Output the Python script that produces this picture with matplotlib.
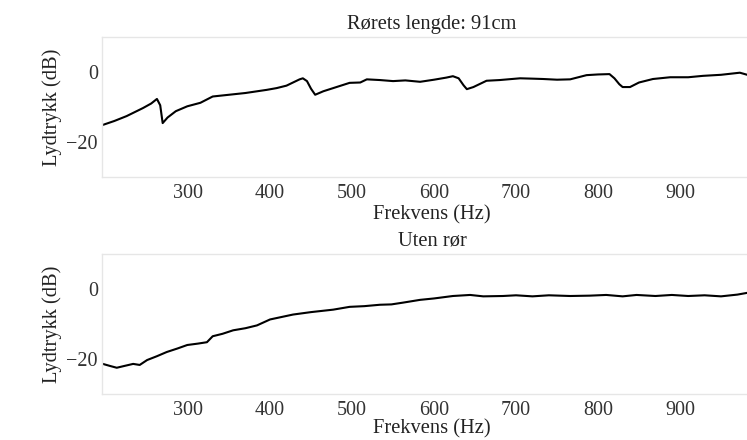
import matplotlib
matplotlib.use("Agg")
import matplotlib.pyplot as plt

# Top panel: tube length 91 cm
freq_tube = [195, 210, 225, 245, 255, 262, 266, 269, 275, 285, 299, 315, 330, 350,
             370, 396, 408, 420, 436, 440, 445, 450, 455, 465, 477, 497, 510, 518,
             534, 550, 565, 583, 600, 615, 623, 630, 636, 640, 648, 664, 680, 705,
             720, 733, 750, 766, 786, 800, 814, 820, 826, 830, 839, 850, 867, 888,
             910, 928, 950, 973, 982, 1000]
db_tube = [-15.2, -14.0, -12.6, -10.3, -9.0, -7.7, -9.5, -14.6, -13.0, -11.2, -9.8, -8.8, -7.0, -6.5,
           -6.0, -5.1, -4.6, -3.9, -2.1, -1.8, -2.6, -4.8, -6.5, -5.5, -4.6, -3.1, -3.0, -2.1,
           -2.3, -2.6, -2.4, -2.8, -2.2, -1.6, -1.2, -1.8, -3.8, -4.9, -4.3, -2.5, -2.3, -1.8,
           -1.9, -2.0, -2.2, -2.1, -0.9, -0.7, -0.6, -1.8, -3.5, -4.3, -4.3, -3.0, -2.0, -1.5,
           -1.5, -1.1, -0.8, -0.2, -0.8, -1.0]

# Bottom panel: without tube
freq_free = [196, 205, 213, 222, 233, 241, 250, 262, 274, 287, 299, 312, 323, 330,
             342, 355, 370, 384, 400, 414, 428, 450, 477, 497, 515, 534, 548, 562,
             583, 600, 623, 644, 660, 684, 700, 720, 740, 766, 790, 810, 830, 847,
             870, 890, 910, 930, 950, 970, 982, 1000]
db_free = [-21.4, -22.0, -22.5, -22.0, -21.4, -21.7, -20.3, -19.2, -18.0, -17.0, -16.0, -15.6, -15.2, -13.5,
           -12.8, -11.8, -11.2, -10.4, -8.7, -8.0, -7.3, -6.6, -5.9, -5.1, -4.9, -4.5, -4.4, -3.9,
           -3.1, -2.7, -2.0, -1.7, -2.1, -2.0, -1.8, -2.1, -1.8, -2.0, -1.9, -1.7, -2.1, -1.7,
           -2.0, -1.7, -2.0, -1.8, -2.1, -1.6, -1.1, -1.0]

titles = ["Rørets lengde: 91cm", "Uten rør"]
xlabel = "Frekvens (Hz)"
ylabel = "Lydtrykk (dB)"
xticks = [300, 400, 500, 600, 700, 800, 900]
yticks = [0, -20]

plt.rcParams['font.family'] = ['Liberation Serif', 'DejaVu Serif']

fig = plt.figure(figsize=(7.47, 4.40), dpi=100)
W, H = 747, 440
axes_px = [(102, 37, 762, 177), (102, 254, 762, 394)]
series = [(freq_tube, db_tube), (freq_free, db_free)]
xlabel_pads = [2, -0.5]

for (l, t, r, b), (f, d), title, lp in zip(axes_px, series, titles, xlabel_pads):
    ax = fig.add_axes([l / W, 1 - b / H, (r - l) / W, (b - t) / H])
    ax.plot(f, d, color='black', lw=1.5)
    ax.set_xlim(195, 1000)
    ax.set_ylim(-30, 10)
    ax.set_xticks(xticks)
    ax.set_yticks(yticks)
    ax.set_yticklabels(['0', '\u221220'])
    ax.tick_params(axis='both', length=0, labelsize=14.5, colors='#333333')
    ax.tick_params(axis='x', pad=5)
    ax.tick_params(axis='y', pad=3)
    for s in ax.spines.values():
        s.set_color('#e6e6e6')
        s.set_linewidth(1.0)
    ax.set_title(title, fontsize=14.8, pad=6, color='#222222')
    ax.set_xlabel(xlabel, fontsize=14.8, labelpad=lp, color='#222222')
    ax.set_ylabel(ylabel, fontsize=14.8, labelpad=3, color='#222222')

fig.savefig("out.png", dpi=100)
